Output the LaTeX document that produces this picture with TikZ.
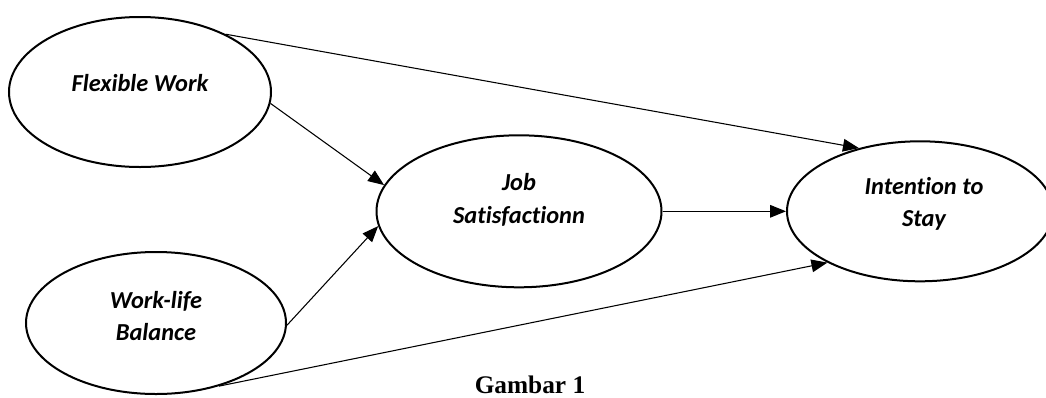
\documentclass[tikz,border=0pt]{standalone}
\usepackage{fontspec}
\setmainfont[Ligatures=NoCommon]{Carlito}
\newfontfamily\capfont{Liberation Serif}
\usetikzlibrary{arrows.meta,shapes.geometric}
\begin{document}
\begin{tikzpicture}[x=0.75pt,y=-0.75pt,
  var/.style={draw,line width=1.5pt,ellipse,inner sep=0pt},
  lbl/.style={font=\fontsize{18.3}{24.5}\selectfont\bfseries\itshape,align=center},
  conn/.style={line width=0.8pt,-{Triangle[length=12pt,width=9.5pt]}}]
\useasboundingbox (0,0) rectangle (1046,397);
\node[var,minimum width=196.5pt,minimum height=112.5pt] (fw) at (140,92) {};
\node[lbl] (fwt) at (140,83) {Flexible Work};
\node[var,minimum width=195pt,minimum height=106.5pt] (wb) at (156,323) {};
\node[lbl] (wbt) at (156,316) {Work-life\\Balance};
\node[var,minimum width=213.75pt,minimum height=114pt] (js) at (519,211.3) {};
\node[lbl] (jst) at (519,200) {Job\\Satisfactionn};
\node[var,minimum width=199.5pt,minimum height=105pt] (is) at (920,211.3) {};
\node[lbl] (ist) at (924,204) {Intention to\\Stay};
\draw[conn] (fw.34.5) -- (is.134.5);
\draw[conn] (fw.-5) -- (js.169.6);
\draw[conn] (wb.-1) -- (js.186.3);
\draw[conn] (js.east) -- (is.west);
\draw[conn] (wb.-45.4) -- (is.209.4);
\node[font=\capfont\fontsize{19}{22}\selectfont\bfseries] (cap) at (530,385) {Gambar 1};
\end{tikzpicture}
\end{document}
